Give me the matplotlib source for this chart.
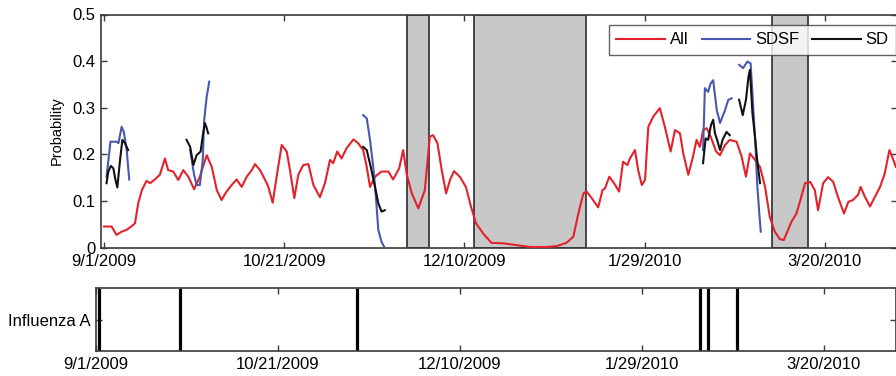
import numpy as np
import pandas as pd
import matplotlib
matplotlib.use("Agg")
import matplotlib.pyplot as plt

plt.rcParams['font.family'] = ['Liberation Sans', 'DejaVu Sans']

# 日付は 2009/9/1 からの日数
start = pd.Timestamp('2009-09-01')
tick_days = [0, 50, 100, 150, 200]

# All (赤)
all_days = [0.0, 2.1, 3.5, 4.9, 6.3, 7.7, 8.6, 9.5, 10.5, 11.8, 12.8, 14.1, 15.5, 16.9, 17.8,
            19.2, 20.6, 22.0, 23.4, 25.0, 26.6, 28.5, 29.9, 31.3, 32.6, 34.0, 35.4, 36.8, 38.2,
            39.6, 41.0, 41.9, 43.3, 44.7, 45.6, 46.8, 47.9, 49.3, 50.7, 51.6, 52.8, 53.9, 55.3,
            56.7, 58.1, 59.9, 61.3, 62.7, 63.6, 64.7, 65.9, 67.3, 69.2, 70.5, 71.9, 72.9, 73.8,
            75.2, 77.0, 78.9, 80.2, 81.9, 83.0, 84.0, 85.4, 87.2, 89.0, 90.4, 91.3, 92.5, 93.7,
            94.9, 96.0, 97.1, 98.8, 100.4, 101.8, 103.2, 105.2, 107.5, 110.8, 114.5, 118.2, 122.8,
            125.6, 128.3, 130.2, 131.6, 133.0, 133.9, 135.3, 137.1, 138.3, 139.0, 140.2, 141.5,
            142.9, 144.0, 145.2, 145.9, 147.3, 148.2, 149.2, 150.1, 151.0, 152.4, 154.2, 155.6,
            157.2, 158.4, 159.8, 160.7, 162.1, 163.4, 164.4, 165.3, 166.2, 167.2, 168.3, 169.8,
            170.9, 172.3, 173.6, 175.5, 176.9, 178.1, 179.2, 180.6, 182.0, 183.4, 184.7, 186.1,
            187.5, 188.6, 189.8, 190.7, 192.1, 193.2, 194.5, 195.9, 197.2, 198.1, 199.5, 200.9,
            202.3, 203.6, 205.3, 206.5, 207.8, 209.2, 209.9, 211.1, 212.5, 213.9, 215.3, 216.6,
            217.9, 218.5, 219.7]
all_prob = [0.045, 0.045, 0.027, 0.034, 0.038, 0.046, 0.052, 0.095, 0.123, 0.143, 0.138, 0.146,
            0.156, 0.191, 0.166, 0.163, 0.145, 0.166, 0.152, 0.125, 0.152, 0.198, 0.173, 0.123,
            0.102, 0.120, 0.134, 0.146, 0.130, 0.152, 0.166, 0.179, 0.166, 0.145, 0.130, 0.096,
            0.152, 0.220, 0.206, 0.166, 0.106, 0.156, 0.177, 0.179, 0.134, 0.108, 0.138, 0.188,
            0.181, 0.206, 0.191, 0.213, 0.232, 0.224, 0.209, 0.173, 0.130, 0.152, 0.163, 0.163,
            0.146, 0.170, 0.209, 0.156, 0.116, 0.084, 0.123, 0.238, 0.241, 0.224, 0.166, 0.116,
            0.145, 0.164, 0.151, 0.130, 0.088, 0.052, 0.030, 0.010, 0.009, 0.005, 0.001, 0.001,
            0.003, 0.010, 0.023, 0.073, 0.116, 0.120, 0.106, 0.086, 0.123, 0.127, 0.152, 0.138,
            0.120, 0.184, 0.177, 0.191, 0.209, 0.166, 0.134, 0.145, 0.259, 0.281, 0.299, 0.259,
            0.206, 0.252, 0.245, 0.202, 0.156, 0.195, 0.231, 0.216, 0.252, 0.256, 0.238, 0.206,
            0.198, 0.220, 0.231, 0.227, 0.195, 0.152, 0.202, 0.188, 0.173, 0.130, 0.066, 0.034,
            0.018, 0.016, 0.038, 0.055, 0.073, 0.102, 0.138, 0.141, 0.123, 0.080, 0.138, 0.151,
            0.141, 0.109, 0.073, 0.098, 0.102, 0.113, 0.130, 0.109, 0.088, 0.109, 0.130, 0.159,
            0.209, 0.198, 0.173]

# SDSF (青) - 区間ごと
sdsf_days = [[0.7, 1.5, 1.8, 3.5, 4.0, 4.9, 5.5, 6.3, 7.0],
             [23.9, 25.0, 25.7, 26.6, 27.4, 27.8, 28.5, 29.2],
             [71.9, 72.9, 73.8, 74.7, 75.5, 76.1, 77.0, 77.7],
             [166.2, 166.7, 167.6, 168.3, 169.0, 170.0, 170.9, 172.3, 173.2, 174.1],
             [176.2, 177.3, 178.5, 179.4, 180.1, 180.8, 181.2, 181.8, 182.2]]
sdsf_prob = [[0.152, 0.206, 0.227, 0.227, 0.224, 0.259, 0.248, 0.209, 0.146],
             [0.209, 0.156, 0.134, 0.134, 0.188, 0.274, 0.324, 0.356],
             [0.284, 0.277, 0.231, 0.173, 0.102, 0.038, 0.012, 0.002],
             [0.209, 0.342, 0.334, 0.352, 0.359, 0.295, 0.267, 0.295, 0.317, 0.320],
             [0.392, 0.385, 0.399, 0.395, 0.302, 0.209, 0.138, 0.073, 0.034]]

# SD (黒)
sd_days = [[0.7, 1.2, 1.9, 2.6, 3.1, 3.7, 4.4, 5.1, 5.8, 6.7],
           [22.9, 23.9, 24.8, 25.7, 26.8, 27.5, 28.0, 28.5, 28.9],
           [71.9, 72.9, 74.0, 75.2, 76.1, 77.0, 77.9],
           [166.2, 166.9, 167.6, 168.4, 169.0, 169.5, 170.1, 170.9, 171.6, 172.7, 173.6],
           [176.2, 177.2, 178.1, 178.8, 179.2, 179.9, 180.6, 181.2, 182.0]]
sd_prob = [[0.138, 0.163, 0.175, 0.170, 0.148, 0.129, 0.184, 0.231, 0.224, 0.209],
           [0.231, 0.216, 0.177, 0.198, 0.206, 0.245, 0.267, 0.256, 0.245],
           [0.216, 0.209, 0.173, 0.130, 0.095, 0.077, 0.080],
           [0.181, 0.234, 0.231, 0.263, 0.274, 0.245, 0.231, 0.209, 0.231, 0.248, 0.241],
           [0.317, 0.284, 0.317, 0.367, 0.381, 0.288, 0.238, 0.188, 0.138]]

# 灰色の期間
shade_start = [84.0, 102.6, 185.3]
shade_end = [90.2, 133.7, 195.3]

# Influenza A 検出日
flu_days = [0.7, 23.1, 71.7, 166.0, 168.2, 176.1]

tick_labels = [f"{d.month}/{d.day}/{d.year}" for d in start + pd.to_timedelta(tick_days, unit='D')]

spine_c = '#3a3a3a'
W, H = 896, 376
fig = plt.figure(figsize=(W / 100, H / 100), dpi=100)

# 上段
ax = fig.add_axes([101 / W, 1 - 247.5 / H, 796 / W, 233 / H])
for a, b in zip(shade_start, shade_end):
    ax.axvspan(a, b, facecolor='#c8c8c8', edgecolor=spine_c, linewidth=1.3, zorder=1)

ax.plot(all_days, all_prob, color='#e3222b', lw=1.5, label='All', zorder=3)
for i, (d, p) in enumerate(zip(sdsf_days, sdsf_prob)):
    ax.plot(d, p, color='#4858b0', lw=1.5, label='SDSF' if i == 0 else None, zorder=3)
for i, (d, p) in enumerate(zip(sd_days, sd_prob)):
    ax.plot(d, p, color='#111111', lw=1.5, label='SD' if i == 0 else None, zorder=4)

ax.set_xlim(-0.83, 220)
ax.set_ylim(0, 0.5)
ax.set_yticks([0, 0.1, 0.2, 0.3, 0.4, 0.5])
ax.set_yticklabels(['0', '0.1', '0.2', '0.3', '0.4', '0.5'])
ax.set_xticks(tick_days)
ax.set_xticklabels(tick_labels)
ax.tick_params(direction='in', top=True, right=True, length=4, width=1, color=spine_c,
               labelsize=12, pad=4)
ax.tick_params(axis='x', pad=5)
ax.set_ylabel('Probability', fontsize=10.5, labelpad=6)
for s in ax.spines.values():
    s.set_color(spine_c)
    s.set_linewidth(1.2)

leg = ax.legend(loc='upper right', ncol=3, fontsize=12, frameon=True, fancybox=False,
                edgecolor=spine_c, handlelength=2.9, handletextpad=0.3, columnspacing=0.8,
                borderpad=0.45, borderaxespad=0.0, bbox_to_anchor=(0.999, 0.955))
leg.get_frame().set_linewidth(1.0)

# 下段
ax2 = fig.add_axes([96 / W, 1 - 351 / H, 800 / W, 63 / H])
ax2.vlines(flu_days, 0, 1, colors='k', linewidth=2.3)
ax2.set_xlim(0, 219.8)
ax2.set_ylim(0, 1)
ax2.set_yticks([0.5])
ax2.set_yticklabels(['Influenza A'])
ax2.set_xticks(tick_days)
ax2.set_xticklabels(tick_labels)
ax2.tick_params(direction='in', top=True, right=True, length=4, width=1, color=spine_c,
                labelsize=12, pad=4)
for s in ax2.spines.values():
    s.set_color(spine_c)
    s.set_linewidth(1.2)

fig.savefig('out.png', dpi=100)
